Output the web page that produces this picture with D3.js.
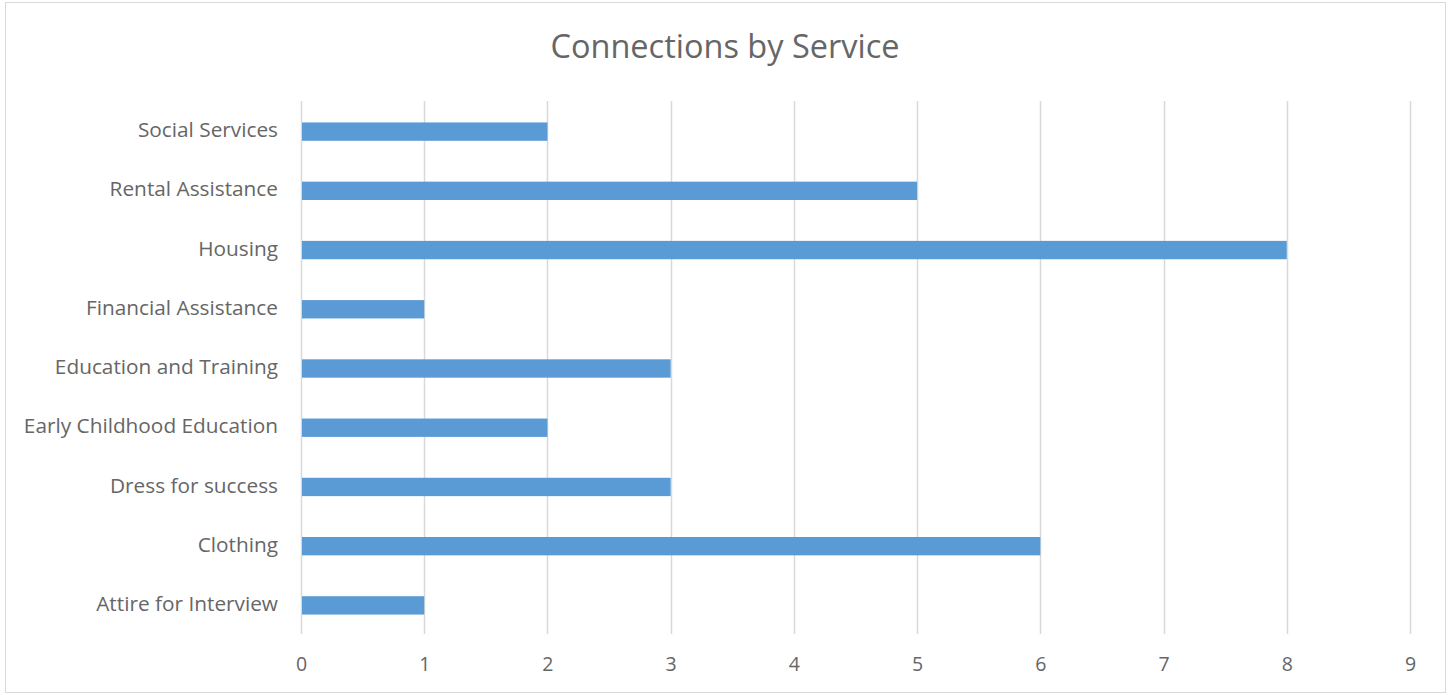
<!DOCTYPE html>
<html>
<head>
<meta charset="utf-8">
<script src="https://cdn.jsdelivr.net/npm/d3@7"></script>
<style>
  body { margin: 0; background: #fff; }
  text { font-family: "Open Sans", sans-serif; }
</style>
</head>
<body>
<svg id="chart"></svg>
<script>
// Connections by Service - horizontal bar chart
const categories = [
  "Attire for Interview", "Clothing", "Dress for success", "Early Childhood Education",
  "Education and Training", "Financial Assistance", "Housing", "Rental Assistance", "Social Services"
];
const values = [1, 6, 3, 2, 3, 1, 8, 5, 2];
const xTicks = [0, 1, 2, 3, 4, 5, 6, 7, 8, 9];

const width = 1449, height = 695;
const margin = { top: 101, right: 39, bottom: 61, left: 301 };

const svg = d3.select("#chart")
  .attr("width", width)
  .attr("height", height);

// chart border
svg.append("rect")
  .attr("x", 5.5).attr("y", 2.5)
  .attr("width", 1440).attr("height", 690)
  .attr("fill", "#fff")
  .attr("stroke", "#d9d9d9");

const x = d3.scaleLinear()
  .domain([0, 9])
  .range([margin.left, width - margin.right]);

// first category at the bottom
const y = d3.scaleBand()
  .domain(categories.slice().reverse())
  .range([margin.top, height - margin.bottom])
  .paddingInner(0.69)
  .paddingOuter(0.345);

// gridlines
svg.append("g")
  .selectAll("line")
  .data(xTicks)
  .join("line")
  .attr("x1", d => Math.round(x(d)) + 0.5)
  .attr("x2", d => Math.round(x(d)) + 0.5)
  .attr("y1", margin.top)
  .attr("y2", height - margin.bottom)
  .attr("stroke", "#d9d9d9")
  .attr("stroke-width", 1.5);

// bars
svg.append("g")
  .selectAll("rect")
  .data(categories)
  .join("rect")
  .attr("x", x(0) + 1)
  .attr("y", d => y(d) + 1)
  .attr("width", (d, i) => x(values[i]) - x(0) - 1)
  .attr("height", y.bandwidth())
  .attr("fill", "#5b9bd5");

// x axis labels
const xAxis = svg.append("g")
  .attr("transform", `translate(0,${height - margin.bottom})`)
  .call(d3.axisBottom(x).tickValues(xTicks).tickSize(0).tickPadding(23).tickFormat(d3.format("d")));
xAxis.select(".domain").remove();
xAxis.selectAll("text")
  .attr("fill", "#666666")
  .style("font-family", "'Open Sans', sans-serif")
  .style("font-size", "19.5px");

// y axis labels
const yAxis = svg.append("g")
  .attr("transform", `translate(${margin.left},0)`)
  .call(d3.axisLeft(y).tickSize(0).tickPadding(23));
yAxis.select(".domain").remove();
yAxis.selectAll("text")
  .attr("fill", "#666666")
  .style("font-family", "'Open Sans', sans-serif")
  .style("font-size", "20.8px");

// title
svg.append("text")
  .attr("x", 725)
  .attr("y", 58)
  .attr("text-anchor", "middle")
  .attr("fill", "#666666")
  .style("font-size", "32.5px")
  .text("Connections by Service");
</script>
</body>
</html>
